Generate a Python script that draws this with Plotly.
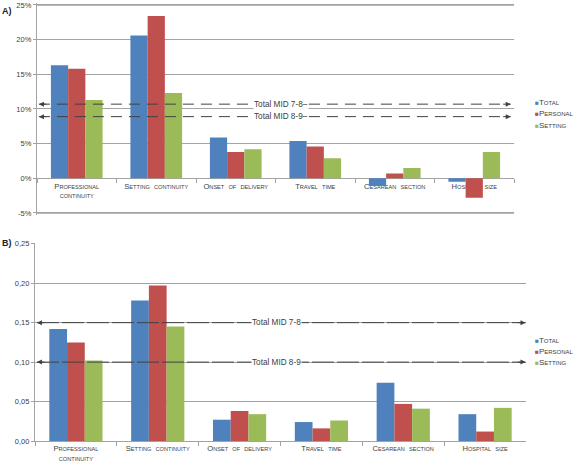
import plotly.graph_objects as go

# ---------------- data ----------------
categories = ["Professional continuity", "Setting continuity", "Onset of delivery",
              "Travel time", "Cesarean section", "Hospital size"]
series = ["Total", "Personal", "Setting"]
colors = ["#4F81BD", "#C0504D", "#9BBB59"]

# Panel A (percent)
a_total = [16.3, 20.6, 5.9, 5.4, -1.1, -0.5]
a_personal = [15.8, 23.4, 3.8, 4.6, 0.7, -2.8]
a_setting = [11.3, 12.3, 4.2, 2.9, 1.5, 3.8]

# Panel B
b_total = [0.142, 0.178, 0.027, 0.024, 0.074, 0.034]
b_personal = [0.125, 0.197, 0.038, 0.016, 0.047, 0.012]
b_setting = [0.102, 0.145, 0.034, 0.026, 0.041, 0.042]

mid_labels_a = ["Total MID 7-8–", "Total MID 8-9–"]
mid_values_a = [10.7, 8.9]
mid_labels_b = ["Total MID 7-8", "Total MID 8-9"]
mid_values_b = [0.15, 0.10]

a_ticks = [-5, 0, 5, 10, 15, 20, 25]
a_ticktext = ["-5%", "0%", "5%", "10%", "15%", "20%", "25%"]
b_ticks = [0, 0.05, 0.10, 0.15, 0.20, 0.25]
b_ticktext = ["0,00", "0,05", "0,10", "0,15", "0,20", "0,25"]

# ---------------- helpers ----------------
W, H = 578, 474
TXT = "#404040"
GRID = "#a3a3a3"
FONT = "Liberation Sans, Arial, sans-serif"


def smallcaps(text, small=5.6):
    out = ""
    run = ""
    for ch in text:
        if ch.islower():
            run += ch.upper()
        else:
            if run:
                out += f"<span style='font-size:{small}px'>{run}</span>"
                run = ""
            if ch == " ":
                out += "&nbsp;&nbsp;"
            elif ch == "\n":
                out += "<br>"
            else:
                out += ch
    if run:
        out += f"<span style='font-size:{small}px'>{run}</span>"
    return out


tick_labels = [smallcaps(c.replace("Professional ", "Professional\n")) for c in categories]


def fx(p):
    return p / W


def fy(p):
    return 1 - p / H


vals_a = [a_total, a_personal, a_setting]
vals_b = [b_total, b_personal, b_setting]

fig = go.Figure()
for name, col, va, vb in zip(series, colors, vals_a, vals_b):
    fig.add_bar(x=categories, y=va, name=name, marker_color=col, marker_line_width=0,
                xaxis="x", yaxis="y", showlegend=False)
    fig.add_bar(x=categories, y=vb, name=name, marker_color=col, marker_line_width=0,
                xaxis="x2", yaxis="y2", showlegend=False)

# panel A: -5% at y=213px, 25% at y=5px; pad the range slightly so the end lines are not clipped
pad = 0.25
a_top_px, a_bot_px = 5, 213
ppu = (a_bot_px - a_top_px) / (a_ticks[-1] - a_ticks[0])
ya_range = [a_ticks[0] - pad, a_ticks[-1] + pad]
ya_dom = [fy(a_bot_px + pad * ppu), fy(a_top_px - pad * ppu)]
xa_dom = [fx(37), fx(514)]
xb_dom = [fx(35), fx(526)]
yb_dom = [fy(441), fy(243)]
xa_pos = ya_dom[0] + (0 - ya_range[0]) / (ya_range[1] - ya_range[0]) * (ya_dom[1] - ya_dom[0])

common_x = dict(type="category", showline=True, linecolor=GRID, linewidth=1.3,
                ticks="outside", tickson="boundaries", ticklen=4, tickcolor=GRID,
                tickvals=categories, ticktext=tick_labels, showgrid=False,
                tickfont=dict(size=7.6, color=TXT, family=FONT), automargin=False)
common_y = dict(showgrid=True, gridcolor=GRID, gridwidth=1.3, showline=True,
                linecolor=GRID, linewidth=1.3, ticks="outside", ticklen=3, tickcolor=GRID,
                zeroline=False, tickfont=dict(size=7.5, color=TXT, family=FONT), automargin=False)

fig.update_layout(
    width=W, height=H, margin=dict(l=0, r=0, t=0, b=0),
    template="none", paper_bgcolor="white", plot_bgcolor="white",
    barmode="group", bargap=0.35, bargroupgap=0,
    font=dict(family=FONT, color=TXT),
    xaxis=dict(domain=xa_dom, anchor="free", position=xa_pos,
               layer="below traces", **common_x),
    yaxis=dict(domain=ya_dom, range=ya_range, tickvals=a_ticks, ticktext=a_ticktext,
               anchor="x", **common_y),
    xaxis2=dict(domain=xb_dom, anchor="y2", **common_x),
    yaxis2=dict(domain=yb_dom, range=[b_ticks[0], b_ticks[-1] * 1.004],
                tickvals=b_ticks, ticktext=b_ticktext, anchor="x2", **common_y),
)

shapes = []
annotations = []

# gridlines at the ends of panel A's scale (explicit, so they always show)
for v in (a_ticks[0], a_ticks[-1]):
    shapes.append(dict(type="line", xref="x domain", yref="y", x0=0, x1=1, y0=v, y1=v,
                       layer="above", line=dict(color=GRID, width=1.3)))

panels = [("x", "y", mid_labels_a, mid_values_a, "11px,7px", 0.512, 0.004, 0.993),
          ("x2", "y2", mid_labels_b, mid_values_b, "22px,3px", 0.492, 0.004, 0.999)]
for xr, yr, labels, values, dash, tx, xl, xr_end in panels:
    for lab, v in zip(labels, values):
        shapes.append(dict(type="line", xref=f"{xr} domain", yref=yr, x0=xl, x1=xr_end,
                           y0=v, y1=v, layer="above",
                           line=dict(color=TXT, width=1, dash=dash)))
        for xa, axp in ((xl, 9), (xr_end, -9)):
            annotations.append(dict(xref=f"{xr} domain", yref=yr, x=xa, y=v, ax=axp, ay=0,
                                    text="", showarrow=True, arrowhead=2, arrowsize=1,
                                    arrowwidth=1, arrowcolor=TXT))
        annotations.append(dict(xref=f"{xr} domain", yref=yr, x=tx, y=v, text=lab,
                                showarrow=False, bgcolor="white", borderpad=0,
                                font=dict(size=8.2, color=TXT, family=FONT)))

# legends (drawn as text entries, one per series)
for top in (102.7, 340):
    for i, (name, col) in enumerate(zip(series, colors)):
        annotations.append(dict(
            xref="paper", yref="paper", x=fx(533), y=fy(top + i * 11.2),
            xanchor="left", yanchor="middle", showarrow=False,
            text=f"<span style='color:{col};font-size:6.5px'>■</span>" + smallcaps(name, 6),
            font=dict(size=8, color=TXT, family=FONT)))

annotations.append(dict(xref="paper", yref="paper", x=0, y=fy(11), xanchor="left",
                        yanchor="middle", text="<b>A)</b>", showarrow=False,
                        font=dict(size=9, color="#222", family=FONT)))
annotations.append(dict(xref="paper", yref="paper", x=0, y=fy(243), xanchor="left",
                        yanchor="middle", text="<b>B)</b>", showarrow=False,
                        font=dict(size=9, color="#222", family=FONT)))

fig.update_layout(shapes=shapes, annotations=annotations)
fig.write_html("out.html")
